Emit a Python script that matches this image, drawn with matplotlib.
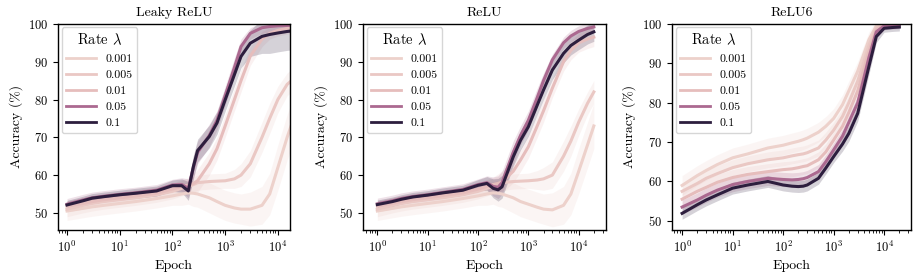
import numpy as np
import matplotlib
matplotlib.use("Agg")
import matplotlib.pyplot as plt
import seaborn as sns
from matplotlib.colors import Normalize

plt.rcParams.update({
    "font.family": "serif",
    "font.serif": ["cmr10"],
    "mathtext.fontset": "cm",
    "axes.formatter.use_mathtext": True,
    "axes.unicode_minus": False,
    "axes.linewidth": 1.0,
    "font.size": 9,
    "axes.titlesize": 10,
    "axes.labelsize": 10,
    "xtick.labelsize": 9,
    "ytick.labelsize": 9,
    "legend.fontsize": 8.5,
    "legend.title_fontsize": 10.5,
})

# --- data ---
epochs = [1, 2, 3, 5, 10, 20, 50, 100, 150, 200, 250, 300, 500, 700,
          1000, 1500, 2000, 3000, 5000, 7000, 10000, 15000, 20000]
rates = [0.001, 0.005, 0.01, 0.05, 0.1]
titles = ["Leaky ReLU", "ReLU", "ReLU6"]

# mean accuracy, one row per rate
leaky_mean = [
    [50.5, 51.2, 51.6, 52.0, 52.5, 53.0, 53.8, 54.5, 55.0, 55.3, 55.2, 55.0, 54.0, 53.0, 52.0, 51.3, 51.0, 51.0, 52.0, 55.0, 62.0, 70.0, 75.0],
    [51.0, 52.0, 52.5, 53.0, 53.5, 54.0, 54.8, 55.7, 56.5, 57.0, 57.5, 58.0, 58.3, 58.4, 58.5, 59.0, 60.0, 63.0, 70.0, 75.0, 80.0, 84.0, 85.5],
    [51.8, 52.5, 53.0, 53.5, 54.0, 54.5, 55.2, 56.3, 57.0, 57.3, 57.8, 58.5, 63.0, 67.0, 73.0, 80.0, 85.0, 91.5, 96.0, 97.5, 98.3, 98.8, 99.0],
    [52.3, 53.4, 54.0, 54.4, 54.9, 55.3, 56.0, 57.4, 57.5, 56.5, 62.0, 66.0, 70.5, 74.5, 81.0, 88.5, 94.0, 97.5, 99.0, 99.3, 99.5, 99.6, 99.7],
    [52.1, 53.2, 53.9, 54.3, 54.8, 55.2, 55.8, 57.2, 57.2, 55.8, 62.3, 66.5, 70.2, 73.8, 79.9, 86.6, 91.4, 94.9, 96.7, 97.2, 97.6, 98.0, 98.2],
]
relu_mean = [
    [50.5, 51.2, 51.6, 52.0, 52.5, 53.0, 53.8, 54.5, 55.0, 55.3, 55.2, 55.0, 54.0, 53.0, 52.3, 51.5, 51.0, 50.8, 52.0, 55.0, 61.0, 68.0, 73.0],
    [51.0, 52.0, 52.5, 53.0, 53.5, 54.0, 54.8, 55.7, 56.5, 57.0, 57.5, 58.0, 58.3, 58.4, 58.5, 58.7, 59.0, 60.0, 65.0, 69.0, 74.0, 79.0, 82.0],
    [51.8, 52.5, 53.0, 53.5, 54.0, 54.6, 55.3, 56.3, 57.0, 57.5, 57.8, 58.2, 61.0, 64.0, 67.5, 73.0, 77.0, 83.0, 90.0, 93.0, 95.0, 96.0, 96.5],
    [52.4, 53.2, 53.8, 54.3, 54.8, 55.4, 56.2, 57.5, 58.0, 57.0, 56.8, 58.0, 66.0, 70.5, 74.5, 80.5, 85.0, 90.5, 95.0, 96.8, 98.0, 98.8, 99.2],
    [52.2, 53.0, 53.6, 54.2, 54.7, 55.3, 56.0, 57.3, 57.8, 56.5, 56.1, 56.9, 64.8, 69.2, 72.8, 78.5, 82.5, 87.8, 92.2, 94.3, 95.7, 97.2, 97.9],
]
relu6_mean = [
    [59.0, 61.5, 62.8, 64.3, 66.0, 67.0, 68.5, 69.2, 69.8, 70.2, 70.6, 71.0, 72.5, 74.0, 76.0, 79.5, 83.0, 88.0, 96.0, 99.5, 100.0, 100.0, 100.0],
    [57.5, 59.5, 60.8, 62.0, 63.5, 64.5, 65.5, 66.0, 66.5, 66.8, 67.0, 67.3, 68.5, 70.5, 73.0, 76.5, 80.0, 85.5, 94.5, 99.0, 100.0, 100.0, 100.0],
    [55.5, 57.5, 58.5, 59.8, 61.0, 61.8, 62.5, 63.0, 63.2, 63.5, 63.8, 64.0, 65.5, 67.5, 70.5, 74.0, 77.5, 83.0, 93.0, 98.5, 99.8, 100.0, 100.0],
    [53.5, 55.3, 56.5, 57.8, 59.2, 60.0, 60.8, 60.5, 60.4, 60.5, 60.7, 61.0, 62.5, 65.0, 68.0, 71.5, 75.0, 80.0, 91.5, 98.0, 99.5, 99.7, 99.8],
    [51.9, 54.1, 55.3, 56.6, 58.3, 59.1, 60.0, 59.1, 58.8, 58.7, 58.8, 59.1, 60.8, 63.4, 66.3, 69.5, 72.2, 77.3, 89.2, 96.8, 98.9, 99.1, 99.2],
]

# confidence band half-width, one row per rate
leaky_ci = [
    [2.5, 2.5, 2.5, 2.5, 2.5, 2.5, 2.5, 2.5, 3.0, 3.0, 3.5, 3.5, 4.0, 4.0, 4.0, 4.0, 4.0, 4.5, 5.0, 5.5, 6.0, 6.0, 6.0],
    [2.0, 2.0, 2.0, 2.0, 2.0, 2.0, 2.0, 2.0, 2.0, 2.0, 2.0, 2.0, 2.0, 2.0, 2.0, 2.5, 3.0, 3.5, 4.0, 4.0, 3.5, 3.0, 3.0],
    [1.5, 1.5, 1.5, 1.5, 1.5, 1.5, 1.5, 1.5, 1.8, 2.0, 2.5, 3.0, 3.0, 3.0, 3.0, 3.0, 3.0, 2.5, 2.0, 1.5, 1.5, 1.5, 1.5],
    [1.5, 1.5, 1.5, 1.5, 1.5, 1.5, 1.5, 1.5, 1.8, 2.5, 3.0, 3.0, 3.0, 2.5, 2.5, 2.5, 2.0, 1.5, 1.5, 1.5, 1.5, 1.5, 1.5],
    [1.2, 1.2, 1.2, 1.2, 1.2, 1.3, 1.3, 1.5, 1.8, 2.5, 3.0, 3.0, 3.0, 3.0, 3.0, 3.0, 3.0, 3.5, 4.5, 5.0, 5.0, 5.0, 5.0],
]
relu_ci = [
    [2.5, 2.5, 2.5, 2.5, 2.5, 2.5, 2.5, 2.5, 3.0, 3.0, 3.5, 3.5, 4.0, 4.0, 4.0, 4.0, 4.0, 4.5, 5.0, 5.5, 6.0, 6.0, 6.0],
    [2.0, 2.0, 2.0, 2.0, 2.0, 2.0, 2.0, 2.0, 2.0, 2.0, 2.0, 2.0, 2.0, 2.0, 2.0, 2.5, 3.0, 3.5, 4.0, 4.0, 3.5, 3.0, 3.0],
    [1.5, 1.5, 1.5, 1.5, 1.5, 1.5, 1.5, 1.5, 1.8, 2.0, 2.5, 3.0, 3.0, 3.0, 3.0, 3.0, 3.0, 2.5, 2.5, 2.5, 2.5, 2.5, 2.5],
    [1.5, 1.5, 1.5, 1.5, 1.5, 1.5, 1.5, 1.5, 1.8, 2.5, 3.0, 3.0, 3.0, 2.5, 2.5, 2.5, 2.0, 1.5, 1.5, 1.5, 1.5, 1.5, 1.5],
    [1.2, 1.2, 1.2, 1.2, 1.2, 1.3, 1.3, 1.5, 1.8, 2.5, 3.0, 3.0, 2.5, 2.5, 2.5, 2.5, 2.5, 2.5, 2.5, 2.5, 2.5, 2.5, 2.5],
]
relu6_ci = [
    [2.5, 2.5, 2.5, 2.5, 2.5, 2.5, 2.5, 2.5, 2.5, 2.5, 2.5, 2.5, 2.5, 2.5, 2.5, 2.5, 2.5, 2.5, 2.0, 1.5, 1.0, 1.0, 1.0],
    [2.0, 2.0, 2.0, 2.0, 2.0, 2.0, 2.0, 2.0, 2.0, 2.0, 2.0, 2.0, 2.0, 2.0, 2.0, 2.0, 2.0, 2.0, 2.0, 1.5, 1.0, 1.0, 1.0],
    [2.0, 2.0, 2.0, 2.0, 2.0, 2.0, 2.0, 2.0, 2.0, 2.0, 2.0, 2.0, 2.0, 2.0, 2.0, 2.0, 2.0, 2.0, 2.0, 1.5, 1.0, 1.0, 1.0],
    [1.8, 1.8, 1.8, 1.8, 1.8, 1.8, 1.8, 1.8, 1.8, 1.8, 1.8, 1.8, 1.8, 1.8, 1.8, 1.8, 1.8, 1.8, 1.8, 1.5, 1.0, 1.0, 1.0],
    [1.5, 1.5, 1.5, 1.5, 1.5, 1.5, 1.5, 1.5, 1.5, 1.5, 1.5, 1.5, 1.5, 1.5, 1.5, 1.8, 2.0, 2.0, 2.0, 1.5, 1.0, 1.0, 1.0],
]

panels = [(leaky_mean, leaky_ci), (relu_mean, relu_ci), (relu6_mean, relu6_ci)]
ylims = [(45.5, 100), (45.5, 100), (47.7, 100)]
xlims = [(0.675, 17000), (0.52, 35000), (0.63, 34000)]
# axes boxes in figure fraction: left, bottom, width, height
boxes = [(0.0635, 0.173, 0.2538, 0.741),
         (0.3972, 0.173, 0.2659, 0.741),
         (0.7352, 0.173, 0.2615, 0.741)]

cmap = sns.color_palette("ch:", as_cmap=True)
norm = Normalize(min(rates), max(rates))

fig, axes = plt.subplots(1, 3, figsize=(9.14, 2.78), dpi=100)

x = np.array(epochs)
for ax, title, (means, cis), ylim, xlim, box in zip(axes, titles, panels, ylims, xlims, boxes):
    ax.set_position(box)
    for rate, m, ci in zip(rates, means, cis):
        m = np.array(m); ci = np.array(ci)
        c = cmap(norm(rate))
        ax.fill_between(x, m - ci, m + ci, color=c, alpha=0.2, lw=0)
        ax.plot(x, m, color=c, lw=2.2, label=str(rate))
    ax.set_xscale("log")
    ax.set_xlim(*xlim)
    ax.set_ylim(*ylim)
    ax.set_yticks([50, 60, 70, 80, 90, 100])
    ax.set_title(title)
    ax.set_xlabel("Epoch")
    ax.set_ylabel("Accuracy (%)")
    leg = ax.legend(title=r"Rate $\lambda$", loc="upper left",
                    borderaxespad=0.3, handlelength=2.5, labelspacing=0.5)
    for ln in leg.get_lines():
        ln.set_linewidth(2.0)

fig.savefig("out.png", dpi=100)
